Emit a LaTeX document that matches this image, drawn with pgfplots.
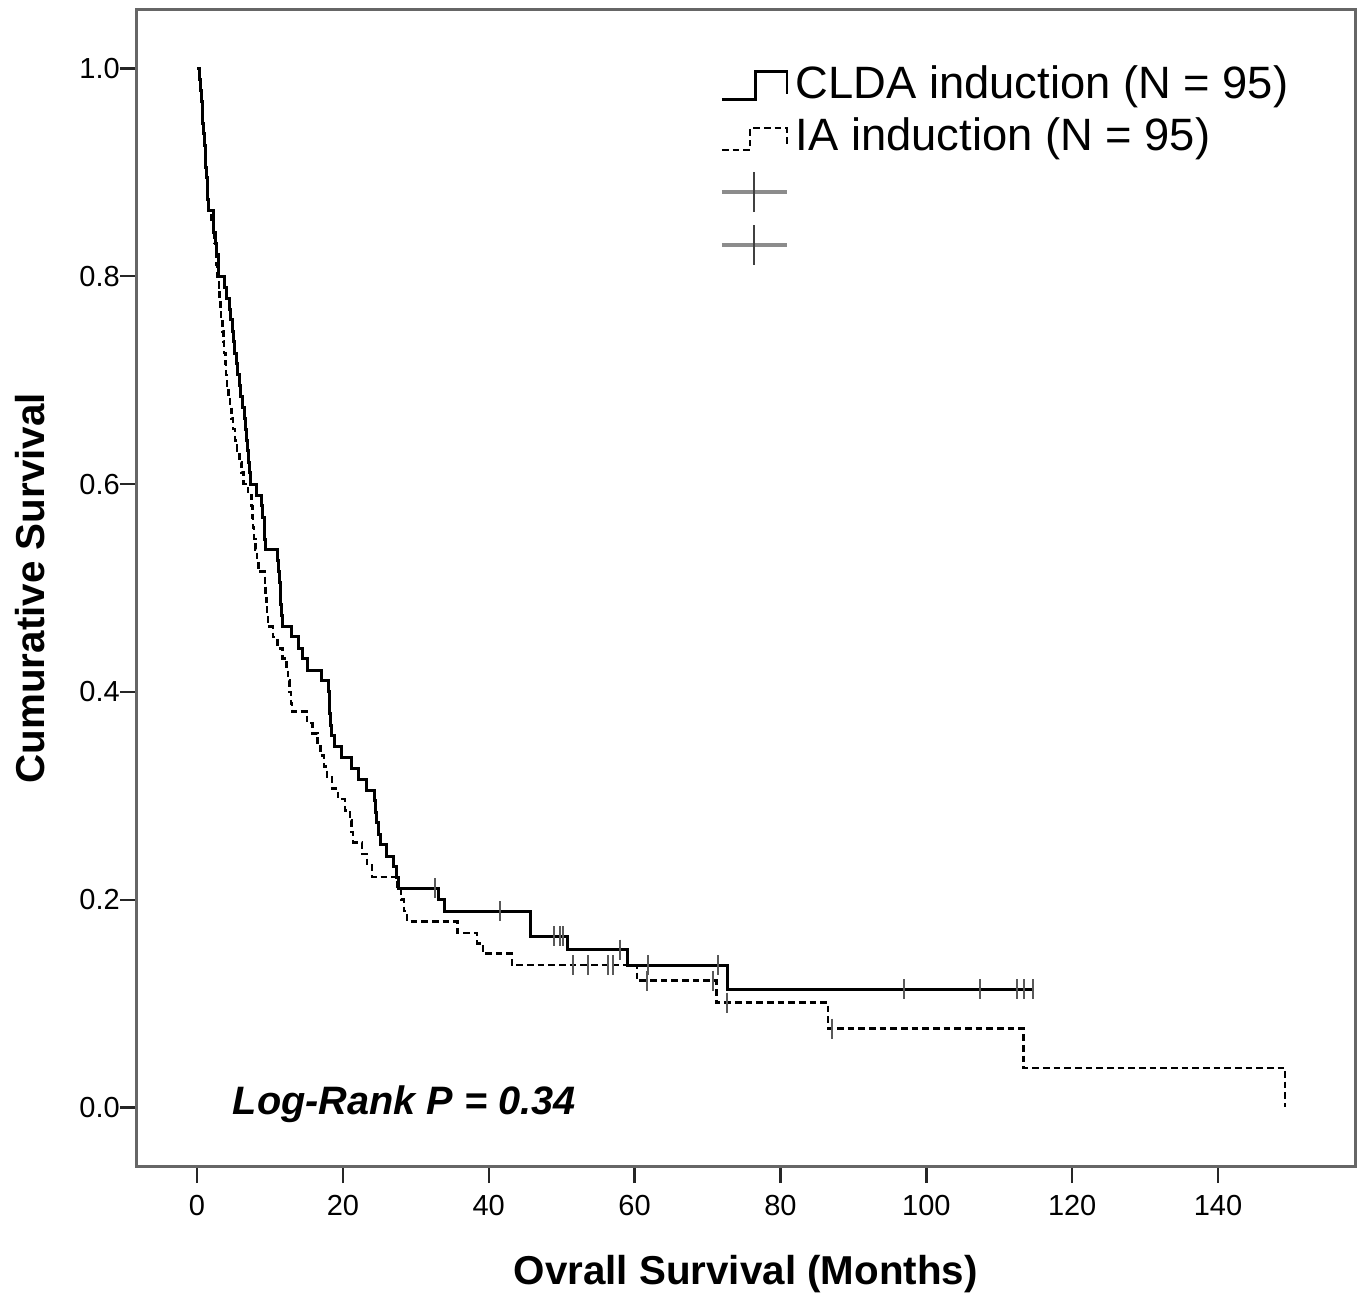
\documentclass[border=0pt]{standalone}
\usepackage{fontspec}
\setmainfont{Liberation Sans}
\usepackage{pgfplots}
\pgfplotsset{compat=1.18}
\begin{document}
\begin{tikzpicture}
\begin{axis}[
  name=ax,
  width=365.55pt, height=346.95pt, scale only axis,
  xmin=-8.3, xmax=158.78, ymin=-0.0568, ymax=1.0563,
  xtick={0,20,40,60,80,100,120,140},
  ytick={0,0.2,0.4,0.6,0.8,1.0},
  tick align=outside, xtick pos=left, ytick pos=left,
  major tick length=5pt,
  every tick/.style={line width=0.7pt, black!85},
  axis line style={line width=0.9pt, black!60},
  /pgf/number format/assume math mode=true,
  tick label style={font=\fontsize{8.7}{10}\selectfont},
  yticklabel style={xshift=3.5pt, /pgf/number format/.cd, fixed, fixed zerofill, precision=1},
  xlabel={\bfseries Ovrall Survival (Months)},
  ylabel={\bfseries Cumurative Survival},
  label style={font=\fontsize{12.1}{14}\selectfont},
  xlabel style={at={(axis description cs:0.5,-0.0926)}, anchor=center},
  ylabel style={at={(axis description cs:-0.087,0.5)}, anchor=center},
  legend cell align=left,
  legend style={at={(axis description cs:0.4805,0.9524)}, anchor=north west,
    draw=none, fill=none, inner sep=0pt, outer sep=0pt,
    font=\fontsize{13.6}{16}\selectfont,
    nodes={inner sep=0pt, text height=10pt, text depth=3.5pt},
    row sep=2.2pt, column sep=2.6pt},
]
\addlegendimage{black, legend image code/.code={
  \draw[overlay, black, line width=0.85pt] (0pt,-3.6pt) -- (10pt,-3.6pt) -- (10pt,4.8pt) -- (19.5pt,4.8pt) -- (19.5pt,-1.8pt);
  \path[draw=none, fill=none] (0pt,-3pt) rectangle (19.5pt,3pt);}}
\addlegendentry{CLDA induction (N = 95)}
\addlegendimage{black, legend image code/.code={
  \draw[overlay, black, line width=0.7pt, dash pattern=on 2pt off 1.2pt] (0pt,-3pt) -- (8.5pt,-3pt) -- (8.5pt,3.6pt) -- (19.5pt,3.6pt) -- (19.5pt,-1.8pt);
  \path[draw=none, fill=none] (0pt,-3pt) rectangle (19.5pt,3pt);}}
\addlegendentry{IA induction (N = 95)}
\addlegendimage{legend image code/.code={
  \draw[overlay, black!45, line width=1.2pt] (0pt,0pt) -- (19.5pt,0pt);
  \draw[overlay, black!75, line width=0.6pt] (9.75pt,-6pt) -- (9.75pt,6pt);
  \path[draw=none, fill=none] (0pt,-3pt) rectangle (19.5pt,3pt);}}
\addlegendentry{}
\addlegendimage{legend image code/.code={
  \draw[overlay, black!45, line width=1.2pt] (0pt,0pt) -- (19.5pt,0pt);
  \draw[overlay, black!75, line width=0.6pt] (9.75pt,-6pt) -- (9.75pt,6pt);
  \path[draw=none, fill=none] (0pt,-3pt) rectangle (19.5pt,3pt);}}
\addlegendentry{}

% IA induction (dashed)
\addplot[const plot, black, line width=0.75pt, dash pattern=on 2pt off 1.2pt, forget plot] coordinates {
(0,1.000) (0.3,0.989) (0.5,0.979) (0.6,0.968) (0.7,0.958) (0.8,0.947) (0.9,0.937)
(1.0,0.926) (1.1,0.916) (1.2,0.905) (1.3,0.895) (1.4,0.884) (1.5,0.874) (1.6,0.863)
(2.0,0.853) (2.2,0.842) (2.4,0.832) (2.6,0.821) (2.7,0.811) (2.8,0.800)
(3.0,0.789) (3.1,0.779) (3.2,0.768) (3.3,0.758) (3.5,0.747) (3.6,0.737) (3.7,0.726)
(3.9,0.716) (4.0,0.705) (4.1,0.695) (4.3,0.684) (4.5,0.674) (4.7,0.663) (4.9,0.653)
(5.2,0.642) (5.5,0.632) (5.8,0.621) (6.1,0.611) (6.4,0.600)
(7.0,0.589) (7.5,0.579) (7.6,0.568) (7.7,0.558) (7.8,0.547) (8.0,0.537) (8.2,0.526) (8.4,0.516)
(9.3,0.505) (9.4,0.495) (9.5,0.484) (9.6,0.474) (9.7,0.463)
(10.4,0.453) (11.0,0.442) (11.7,0.432) (12.3,0.421) (12.5,0.411) (12.7,0.400) (12.9,0.389) (13.0,0.381)
(15.1,0.370) (15.8,0.360) (16.5,0.349) (16.9,0.339) (17.4,0.328) (17.8,0.318) (18.5,0.307)
(19.3,0.297) (20.3,0.286) (21.0,0.276) (21.2,0.265) (21.4,0.255) (22.6,0.244) (23.3,0.233) (24.0,0.222)
(27.5,0.211) (28.0,0.200) (28.4,0.189) (28.8,0.179)
(35.7,0.168) (38.4,0.158) (39.2,0.148) (43.2,0.137)
(60.3,0.122) (71.2,0.101) (86.5,0.076) (113.3,0.038) (149.2,0.000)
};
% CLDA induction (solid)
\addplot[const plot, black, line width=0.9pt, forget plot] coordinates {
(0,1.000) (0.3,0.989) (0.5,0.979) (0.6,0.968) (0.7,0.958) (0.8,0.947) (0.9,0.937)
(1.0,0.926) (1.1,0.916) (1.2,0.905) (1.3,0.895) (1.4,0.884) (1.5,0.874) (1.6,0.863)
(2.2,0.853) (2.3,0.842) (2.5,0.832) (2.7,0.821) (2.9,0.811) (3.0,0.800)
(3.8,0.789) (4.1,0.779) (4.4,0.768) (4.6,0.758) (4.8,0.747) (5.0,0.737) (5.2,0.726)
(5.4,0.716) (5.6,0.705) (5.8,0.695) (5.9,0.684)
(6.3,0.674) (6.5,0.663) (6.6,0.653) (6.8,0.642) (6.9,0.632) (7.0,0.621) (7.2,0.611) (7.3,0.600)
(8.2,0.589) (8.8,0.579) (9.0,0.568) (9.2,0.558) (9.3,0.547) (9.4,0.537)
(11.1,0.526) (11.2,0.516) (11.3,0.505) (11.4,0.495) (11.5,0.484) (11.6,0.474) (11.7,0.463)
(13.0,0.453) (13.9,0.442) (14.5,0.432) (15.1,0.421) (17.1,0.411)
(18.0,0.400) (18.1,0.389) (18.2,0.379) (18.3,0.368) (18.4,0.358) (18.8,0.347)
(19.8,0.337) (21.2,0.326) (22.2,0.316) (23.3,0.305)
(24.4,0.295) (24.5,0.284) (24.6,0.274) (24.9,0.263) (25.2,0.253) (26.0,0.242)
(27.0,0.232) (27.3,0.221) (27.6,0.211)
(33.1,0.200) (34.0,0.189) (45.7,0.165) (50.8,0.152) (59.0,0.137) (72.8,0.114) (114.6,0.114)
};
% censored (CLDA)
\addplot[only marks, mark=|, mark size=3pt, mark options={line width=0.6pt, black!65}, forget plot] coordinates {
(32.6,0.211) (41.6,0.189) (49.0,0.165) (49.8,0.165) (50.2,0.165) (58.0,0.152)
(61.9,0.137) (71.5,0.137) (97.0,0.114) (107.4,0.114) (112.4,0.114) (113.4,0.114) (114.6,0.114)
};
% censored (IA)
\addplot[only marks, mark=|, mark size=3pt, mark options={line width=0.6pt, black!65}, forget plot] coordinates {
(51.6,0.137) (53.6,0.137) (56.4,0.137) (57.0,0.137) (61.7,0.122) (70.8,0.122) (72.7,0.101) (87.0,0.076)
};
\node[anchor=base west, font=\bfseries\itshape\fontsize{11.9}{14}\selectfont] at (axis cs:3.3,-0.007) {Log-Rank P = 0.34};
\end{axis}
\pgfresetboundingbox
\path ([shift={(-40.95pt,-38.25pt)}]ax.south west) rectangle ([shift={(2.4pt,3pt)}]ax.north east);
\end{tikzpicture}
\end{document}
